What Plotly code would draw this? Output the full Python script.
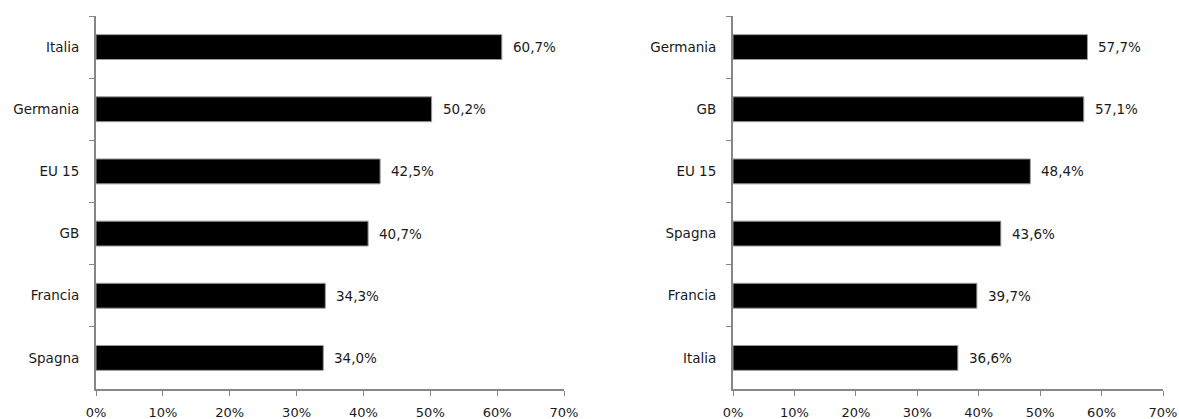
import plotly.graph_objects as go

left_categories = ["Italia", "Germania", "EU 15", "GB", "Francia", "Spagna"]
left_values = [60.7, 50.2, 42.5, 40.7, 34.3, 34.0]
right_categories = ["Germania", "GB", "EU 15", "Spagna", "Francia", "Italia"]
right_values = [57.7, 57.1, 48.4, 43.6, 39.7, 36.6]
x_ticks = [0, 10, 20, 30, 40, 50, 60, 70]
x_tick_labels = [f"{t}%" for t in x_ticks]

W, H = 1179, 419
FONT = "DejaVu Sans"
FS = 13.5
AXC = "#868686"
TXT = "#1a1a1a"

def fmt(v):
    return f"{v:.1f}".replace(".", ",") + "%"

fig = go.Figure()
fig.add_trace(go.Bar(y=left_categories, x=left_values, orientation="h",
                     marker=dict(color="black", line=dict(color="#9a9a9a", width=1)),
                     width=0.4, xaxis="x", yaxis="y", showlegend=False))
fig.add_trace(go.Bar(y=right_categories, x=right_values, orientation="h",
                     marker=dict(color="black", line=dict(color="#9a9a9a", width=1)),
                     width=0.4, xaxis="x2", yaxis="y2", showlegend=False))

annotations = []
for c, v in zip(left_categories, left_values):
    annotations.append(dict(x=v, y=c, xref="x", yref="y", text=fmt(v), showarrow=False,
                            xanchor="left", xshift=9, font=dict(family=FONT, size=FS, color=TXT)))
for c, v in zip(right_categories, right_values):
    annotations.append(dict(x=v, y=c, xref="x2", yref="y2", text=fmt(v), showarrow=False,
                            xanchor="left", xshift=9, font=dict(family=FONT, size=FS, color=TXT)))

ydom = [1 - 389 / H, 1 - 16 / H]

def xaxis(dom, anchor):
    return dict(domain=dom, anchor=anchor, range=[0, 70], tickvals=x_ticks, ticktext=x_tick_labels,
                showline=True, linecolor=AXC, linewidth=2, ticks="outside", ticklen=5, tickcolor=AXC,
                tickwidth=1, showgrid=False, zeroline=False, fixedrange=True, automargin=False,
                ticklabelstandoff=5,
                tickfont=dict(family=FONT, size=13, color=TXT))

def yaxis(dom, anchor):
    return dict(domain=dom, anchor=anchor, autorange="reversed", type="category",
                showline=True, linecolor=AXC, linewidth=2, ticks="outside", ticklen=5, tickcolor=AXC,
                tickwidth=1, tickson="boundaries", showgrid=False, zeroline=False, automargin=False,
                ticklabelstandoff=12,
                tickfont=dict(family=FONT, size=FS, color=TXT))

fig.update_layout(
    width=W, height=H, margin=dict(l=0, r=0, t=0, b=0),
    paper_bgcolor="white", plot_bgcolor="white",
    xaxis=xaxis([96 / W, 564 / W], "y"),
    yaxis=yaxis(ydom, "x"),
    xaxis2=xaxis([733 / W, 1163 / W], "y2"),
    yaxis2=yaxis(ydom, "x2"),
    annotations=annotations,
    bargap=0.6,
)

fig.write_html(
    "out.html",
    config={"displayModeBar": False},
    post_script="document.body.style.margin='0';document.body.style.overflow='hidden';",
)
